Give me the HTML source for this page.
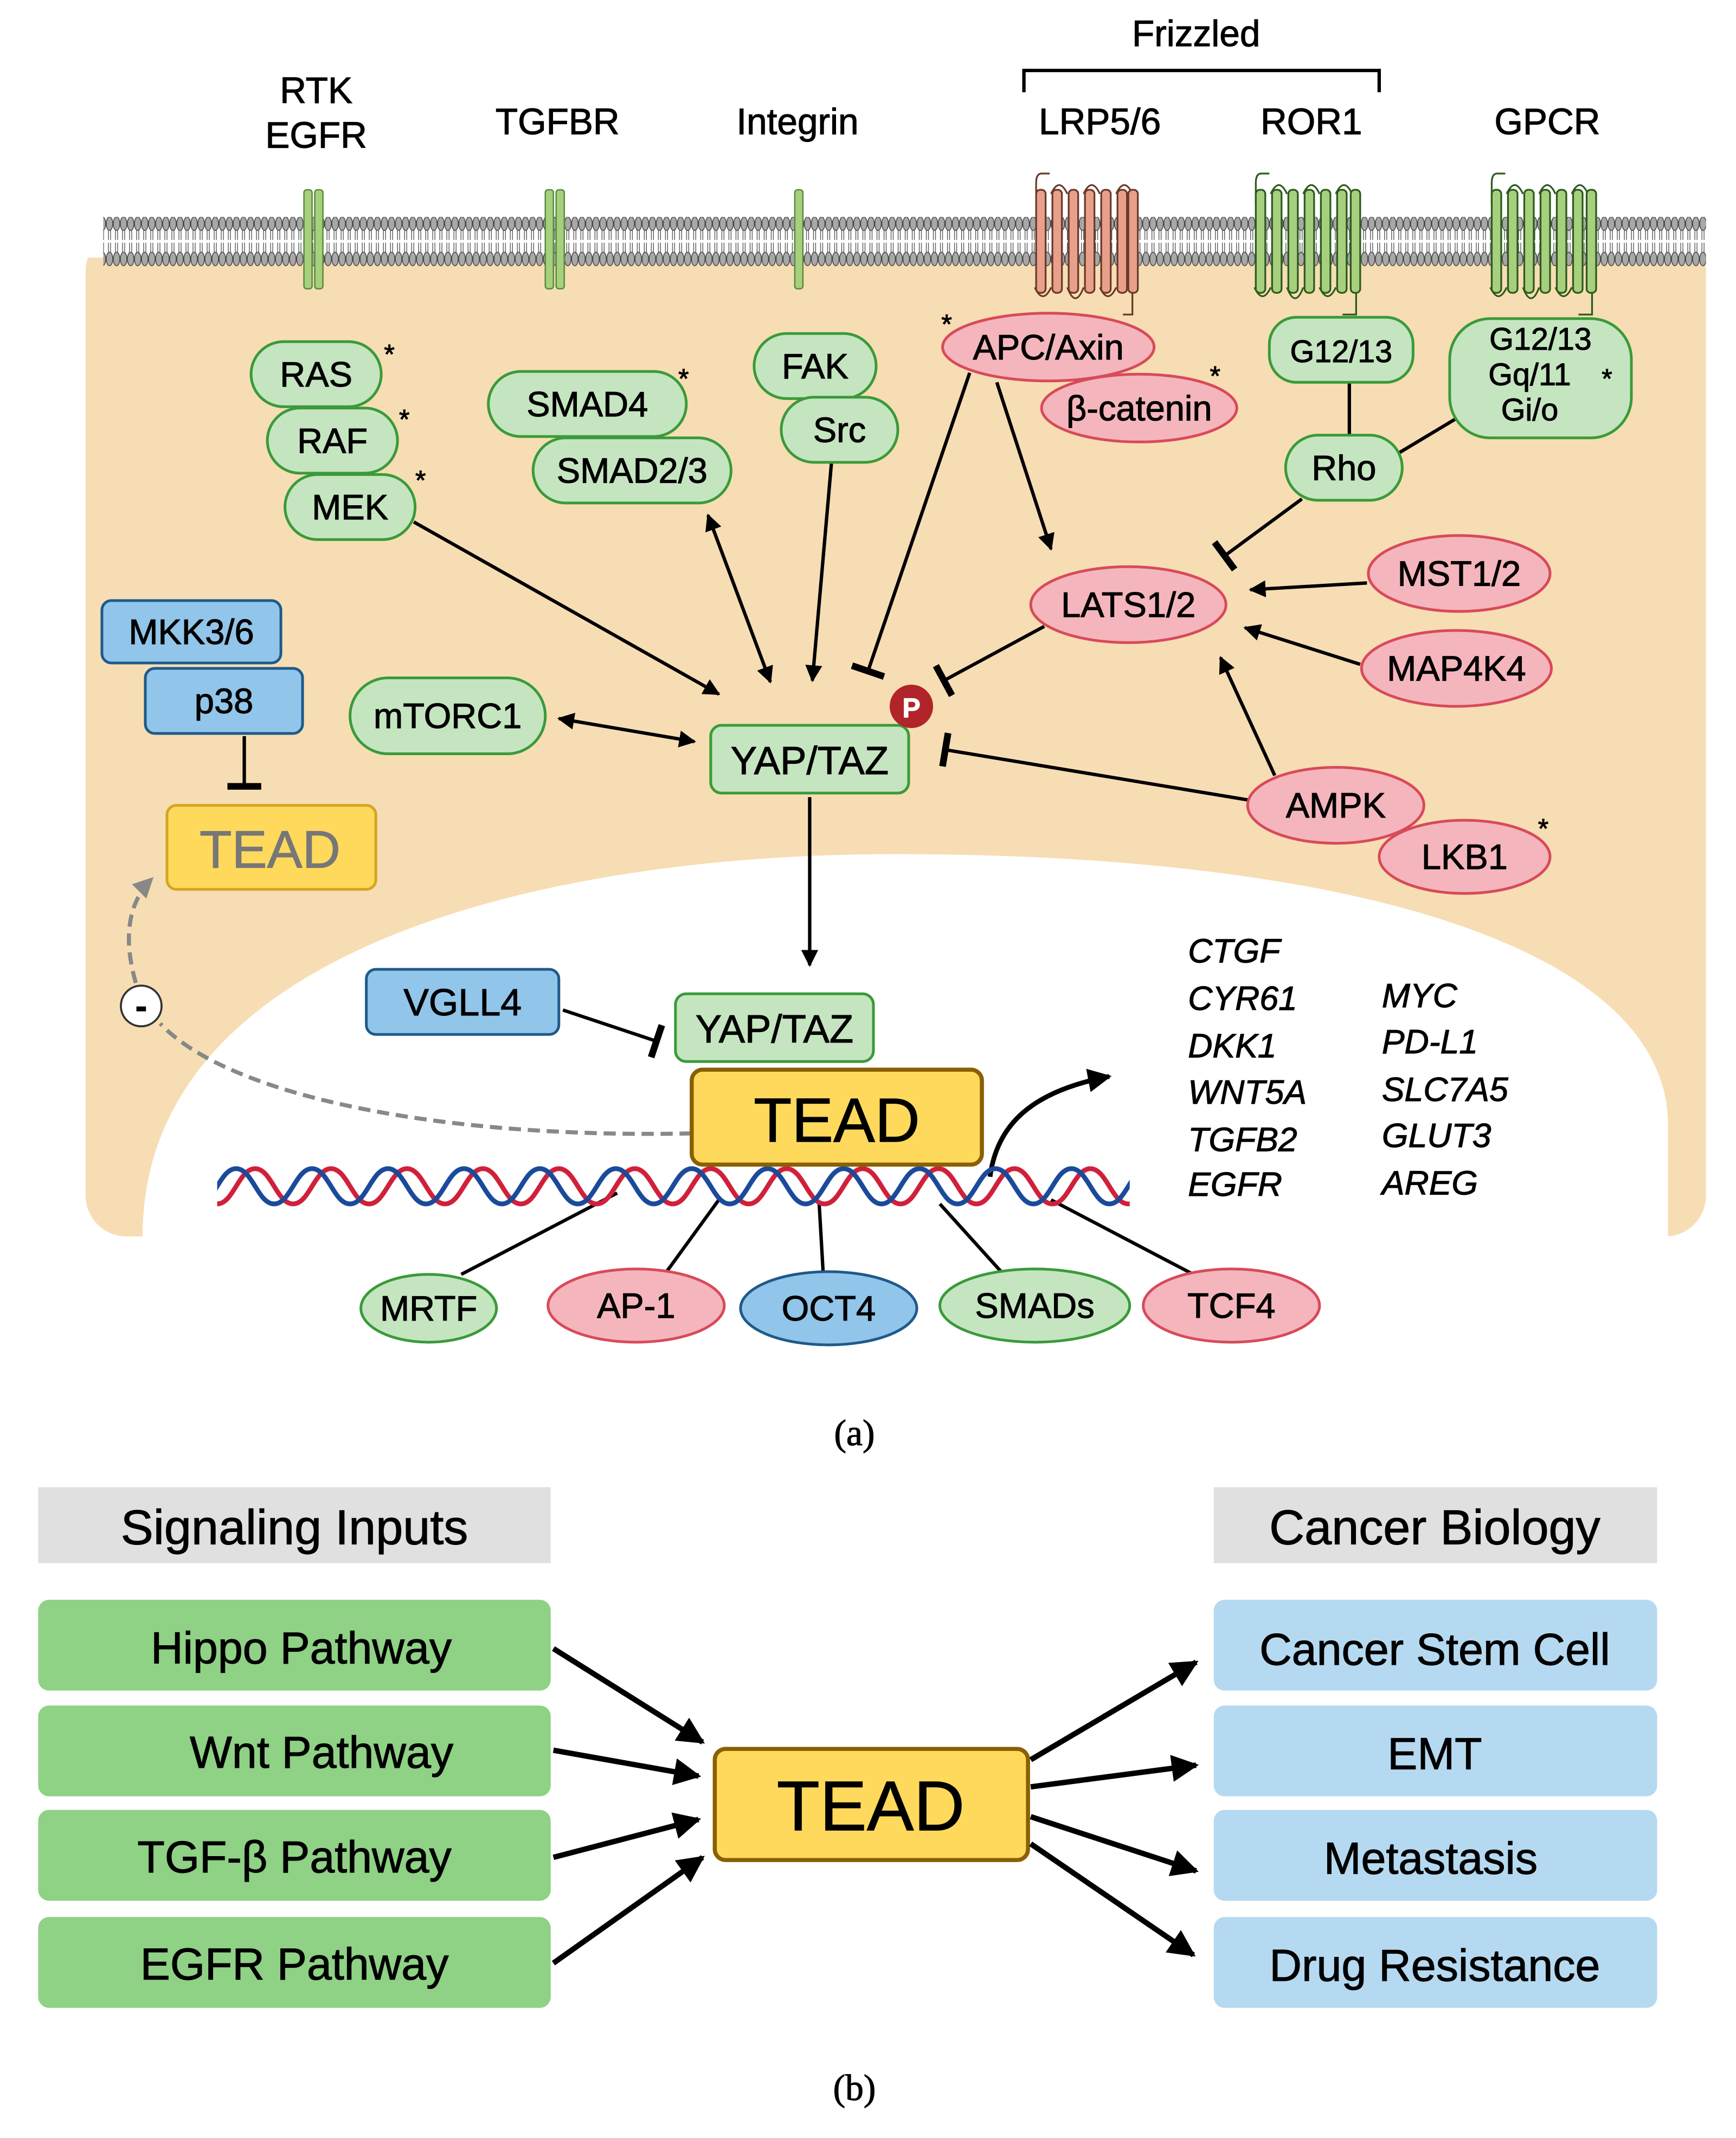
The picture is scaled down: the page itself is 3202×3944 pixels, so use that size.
<!DOCTYPE html>
<html><head><meta charset="utf-8"><style>
html,body{margin:0;padding:0;background:#fff}
svg{display:block}
text{font-family:"Liberation Sans",sans-serif;stroke:currentColor;stroke-width:0.45}
</style></head><body>
<svg width="3202" height="3944" viewBox="0 0 1280 1577" xmlns="http://www.w3.org/2000/svg">
<defs>
<pattern id="lipT" x="0" y="160" width="5.2" height="40" patternUnits="userSpaceOnUse">
<ellipse cx="2.6" cy="5" rx="2.4" ry="5" fill="#a8a8a8" stroke="#444" stroke-width="0.6"/>
<line x1="1.8" y1="10" x2="1.8" y2="17" stroke="#444" stroke-width="0.5"/>
<line x1="3.4" y1="10" x2="3.4" y2="17" stroke="#444" stroke-width="0.5"/>
<line x1="1.8" y1="19" x2="1.8" y2="26" stroke="#444" stroke-width="0.5"/>
<line x1="3.4" y1="19" x2="3.4" y2="26" stroke="#444" stroke-width="0.5"/>
<ellipse cx="2.6" cy="31" rx="2.4" ry="5" fill="#a8a8a8" stroke="#444" stroke-width="0.6"/>
</pattern>
<pattern id="dna" x="160" y="860" width="56" height="30" patternUnits="userSpaceOnUse">
<path d="M0,28 C12,28 16,2 28,2 C40,2 44,28 56,28" fill="none" stroke="#d0203a" stroke-width="3.5"/>
<path d="M-14,28 C-2,28 2,2 14,2 C26,2 30,28 42,28 C54,28 58,2 70,2" fill="none" stroke="#1a4a9a" stroke-width="3.5"/>
</pattern>
<marker id="ar" viewBox="0 0 10 10" refX="9" refY="5" markerWidth="5" markerHeight="5" orient="auto-start-reverse"><path d="M0,0 L10,5 L0,10 z" fill="#000"/></marker>
<marker id="arg" viewBox="0 0 10 10" refX="9" refY="5" markerWidth="5" markerHeight="5" orient="auto"><path d="M0,0 L10,5 L0,10 z" fill="#888"/></marker>
<marker id="tb" viewBox="0 0 4 20" refX="2" refY="10" markerWidth="2" markerHeight="10" orient="auto"><rect x="0" y="0" width="4" height="20" fill="#000"/></marker>
</defs>

<rect x="63" y="170" width="1195" height="742" rx="30" fill="#f7ddb3"/>
<rect x="63" y="170" width="1195" height="20" fill="#fff"/>
<path d="M105,912 C105,700 400,630 660,630 C1000,630 1230,700 1230,830 L1230,912 Z" fill="#fff"/>
<rect x="76" y="160" width="1182" height="37" fill="url(#lipT)"/>

<g fill="#a6d07e" stroke="#5a8a3a" stroke-width="1">
<rect x="224" y="140" width="6" height="73" rx="2"/><rect x="232" y="140" width="6" height="73" rx="2"/>
<rect x="402" y="140" width="6" height="73" rx="2"/><rect x="410" y="140" width="6" height="73" rx="2"/>
<rect x="586" y="140" width="6" height="73" rx="2"/>
</g>
<g stroke="#6a3a2a" stroke-width="1.3" fill="#e8a08a">
<path d="M774,128 H768 Q764,128 764,135 V150" fill="none"/>
<path d="M775,143 Q781,130 787,143 M799,143 Q805,130 811,143 M823,143 Q829,130 835,143" fill="none"/>
<path d="M763,212 Q769,225 775,212 M787,212 Q793,228 799,212 M811,212 Q817,225 823,212 M835,212 V232 H828" fill="none"/>
<rect x="764" y="140" width="7" height="76" rx="3"/><rect x="776" y="140" width="7" height="76" rx="3"/><rect x="788" y="140" width="7" height="76" rx="3"/><rect x="800" y="140" width="7" height="76" rx="3"/><rect x="812" y="140" width="7" height="76" rx="3"/><rect x="824" y="140" width="7" height="76" rx="3"/><rect x="832" y="140" width="7" height="76" rx="3"/>
</g>
<g stroke="#2e5a1e" stroke-width="1.3" fill="#a6d07e">
<path d="M936,128 H930 Q926,128 926,135 V150" fill="none"/>
<path d="M937,143 Q943,130 949,143 M961,143 Q967,130 973,143 M985,143 Q991,130 997,143" fill="none"/>
<path d="M925,212 Q931,225 937,212 M949,212 Q955,228 961,212 M973,212 Q979,225 985,212 M1000,212 V232 H990" fill="none"/>
<rect x="926" y="140" width="7" height="76" rx="3"/><rect x="938" y="140" width="7" height="76" rx="3"/><rect x="950" y="140" width="7" height="76" rx="3"/><rect x="962" y="140" width="7" height="76" rx="3"/><rect x="974" y="140" width="7" height="76" rx="3"/><rect x="986" y="140" width="7" height="76" rx="3"/><rect x="996" y="140" width="7" height="76" rx="3"/>
<path d="M1110,128 H1104 Q1100,128 1100,135 V150" fill="none"/>
<path d="M1111,143 Q1117,130 1123,143 M1135,143 Q1141,130 1147,143 M1159,143 Q1165,130 1171,143" fill="none"/>
<path d="M1099,212 Q1105,225 1111,212 M1123,212 Q1129,228 1135,212 M1147,212 Q1153,225 1159,212 M1174,212 V232 H1164" fill="none"/>
<rect x="1100" y="140" width="7" height="76" rx="3"/><rect x="1112" y="140" width="7" height="76" rx="3"/><rect x="1124" y="140" width="7" height="76" rx="3"/><rect x="1136" y="140" width="7" height="76" rx="3"/><rect x="1148" y="140" width="7" height="76" rx="3"/><rect x="1160" y="140" width="7" height="76" rx="3"/><rect x="1170" y="140" width="7" height="76" rx="3"/>
</g>

<g font-size="27" text-anchor="middle" fill="#000" color="#000">
<text x="233" y="76">RTK</text><text x="233" y="109">EGFR</text>
<text x="411" y="99">TGFBR</text><text x="588" y="99">Integrin</text>
<text x="811" y="99">LRP5/6</text><text x="967" y="99">ROR1</text><text x="1141" y="99">GPCR</text>
<text x="882" y="34">Frizzled</text>
</g>
<path d="M755,68 V52 H1017 V68" fill="none" stroke="#000" stroke-width="2.5"/>

<g stroke="#000" stroke-width="2.5" fill="none">
<line x1="305" y1="385" x2="530" y2="512" marker-end="url(#ar)"/>
<line x1="522" y1="380" x2="568" y2="503" marker-start="url(#ar)" marker-end="url(#ar)"/>
<line x1="613" y1="342" x2="599" y2="502" marker-end="url(#ar)"/>
<line x1="715" y1="275" x2="640" y2="495" marker-end="url(#tb)"/>
<line x1="735" y1="282" x2="775" y2="405" marker-end="url(#ar)"/>
<line x1="770" y1="462" x2="696" y2="502" marker-end="url(#tb)"/>
<line x1="995" y1="282" x2="995" y2="322"/>
<line x1="1075" y1="308" x2="1030" y2="335"/>
<line x1="960" y1="368" x2="903" y2="410" marker-end="url(#tb)"/>
<line x1="1008" y1="430" x2="922" y2="435" marker-end="url(#ar)"/>
<line x1="1003" y1="490" x2="918" y2="463" marker-end="url(#ar)"/>
<line x1="940" y1="572" x2="900" y2="485" marker-end="url(#ar)"/>
<line x1="920" y1="590" x2="697" y2="553" marker-end="url(#tb)"/>
<line x1="412" y1="530" x2="512" y2="547" marker-start="url(#ar)" marker-end="url(#ar)"/>
<line x1="180" y1="543" x2="180" y2="580" marker-end="url(#tb)"/>
<line x1="597" y1="588" x2="597" y2="712" marker-end="url(#ar)"/>
<line x1="415" y1="745" x2="484" y2="768" marker-end="url(#tb)"/>
<path d="M730,868 C735,830 760,805 818,794" stroke-width="3.5" marker-end="url(#ar)"/>
<line x1="340" y1="940" x2="455" y2="880"/>
<line x1="490" y1="940" x2="530" y2="885"/>
<line x1="607" y1="940" x2="604" y2="888"/>
<line x1="740" y1="940" x2="693" y2="888"/>
<line x1="880" y1="940" x2="775" y2="885"/>
</g>
<g stroke="#888" stroke-width="3" fill="none" stroke-dasharray="9,5">
<path d="M510,836 C330,840 170,810 118,755"/>
<path d="M100,725 C90,690 95,665 112,648" marker-end="url(#arg)"/>
</g>
<circle cx="104" cy="742" r="15" fill="#fff" stroke="#333" stroke-width="1.5"/>
<text x="104" y="751" font-size="26" text-anchor="middle" font-weight="bold" color="#000">-</text>

<rect x="160" y="860" width="673" height="30" fill="url(#dna)"/>

<g fill="#c5e5c0" stroke="#3a9a3a" stroke-width="2">
<rect x="185" y="252" width="96" height="48" rx="24"/>
<rect x="197" y="301" width="96" height="48" rx="24"/>
<rect x="210" y="350" width="96" height="48" rx="24"/>
<rect x="360" y="274" width="146" height="48" rx="24"/>
<rect x="393" y="323" width="146" height="48" rx="24"/>
<rect x="556" y="246" width="90" height="48" rx="24"/>
<rect x="576" y="293" width="86" height="48" rx="24"/>
<rect x="936" y="234" width="106" height="48" rx="20"/>
<rect x="1069" y="235" width="134" height="88" rx="30"/>
<rect x="948" y="321" width="86" height="48" rx="24"/>
<rect x="258" y="500" width="144" height="56" rx="28"/>
<rect x="524" y="535" width="146" height="50" rx="8"/>
<rect x="498" y="733" width="146" height="50" rx="8"/>
<ellipse cx="316" cy="965" rx="50" ry="25"/>
<ellipse cx="763" cy="963" rx="70" ry="27"/>
</g>
<g fill="#f4b6bc" stroke="#d84a5a" stroke-width="2">
<ellipse cx="773" cy="256" rx="78" ry="25"/>
<ellipse cx="840" cy="301" rx="72" ry="25"/>
<ellipse cx="832" cy="446" rx="72" ry="28"/>
<ellipse cx="1076" cy="423" rx="67" ry="28"/>
<ellipse cx="1074" cy="493" rx="70" ry="28"/>
<ellipse cx="1080" cy="632" rx="63" ry="27"/>
<ellipse cx="985" cy="594" rx="65" ry="28"/>
<ellipse cx="469" cy="963" rx="65" ry="27"/>
<ellipse cx="908" cy="963" rx="65" ry="27"/>
</g>
<g fill="#92c5ea" stroke="#1e5a8a" stroke-width="2">
<rect x="75" y="443" width="132" height="46" rx="7"/>
<rect x="107" y="493" width="116" height="48" rx="7"/>
<rect x="270" y="715" width="142" height="48" rx="7"/>
<ellipse cx="611" cy="965" rx="65" ry="27"/>
</g>
<rect x="123" y="594" width="154" height="62" rx="7" fill="#ffd95c" stroke="#d4a520" stroke-width="2"/>
<rect x="510" y="789" width="214" height="70" rx="8" fill="#ffd95c" stroke="#8a6000" stroke-width="3"/>
<circle cx="672" cy="521" r="16" fill="#b0242a"/>
<text x="672" y="529" font-size="20" font-weight="bold" fill="#fff" color="#fff" text-anchor="middle">P</text>

<g font-size="26" text-anchor="middle" fill="#000" color="#000">
<text x="233" y="285">RAS</text><text x="245" y="334">RAF</text><text x="258" y="383">MEK</text>
<text x="433" y="307">SMAD4</text><text x="466" y="356">SMAD2/3</text>
<text x="601" y="279">FAK</text><text x="619" y="326">Src</text>
<text x="773" y="265">APC/Axin</text><text x="840" y="310">β-catenin</text>
<text x="989" y="267" font-size="23">G12/13</text>
<text x="1136" y="258" font-size="23">G12/13</text><text x="1128" y="284" font-size="23">Gq/11</text><text x="1128" y="310" font-size="23">Gi/o</text>
<text x="991" y="354">Rho</text>
<text x="832" y="455">LATS1/2</text><text x="1076" y="432">MST1/2</text><text x="1074" y="502">MAP4K4</text>
<text x="985" y="603">AMPK</text><text x="1080" y="641">LKB1</text>
<text x="330" y="537">mTORC1</text>
<text x="597" y="571" font-size="29">YAP/TAZ</text>
<text x="141" y="475">MKK3/6</text><text x="165" y="526">p38</text>
<text x="199" y="640" font-size="39" fill="#777" color="#777">TEAD</text>
<text x="341" y="749" font-size="28">VGLL4</text>
<text x="571" y="769" font-size="29">YAP/TAZ</text>
<text x="617" y="842" font-size="46">TEAD</text>
<text x="316" y="974">MRTF</text><text x="469" y="972">AP-1</text><text x="611" y="974">OCT4</text><text x="763" y="972">SMADs</text><text x="908" y="972">TCF4</text>
</g>
<g font-size="20" text-anchor="middle" color="#000">
<text x="287" y="268">*</text><text x="298" y="316">*</text><text x="310" y="361">*</text><text x="504" y="286">*</text><text x="698" y="246">*</text><text x="896" y="284">*</text><text x="1185" y="286">*</text><text x="1138" y="618">*</text>
</g>
<g font-size="25" font-style="italic" fill="#000" color="#000">
<text x="876" y="710">CTGF</text><text x="876" y="745">CYR61</text><text x="876" y="780">DKK1</text><text x="876" y="814">WNT5A</text><text x="876" y="849">TGFB2</text><text x="876" y="882">EGFR</text>
<text x="1019" y="743">MYC</text><text x="1019" y="777">PD-L1</text><text x="1019" y="812">SLC7A5</text><text x="1019" y="846">GLUT3</text><text x="1019" y="881">AREG</text>
</g>
<text x="630" y="1066" font-size="27" font-family="Liberation Serif" text-anchor="middle" style="font-family:'Liberation Serif',serif" color="#000">(a)</text>

<rect x="28" y="1097" width="378" height="56" fill="#e0e0e0"/>
<rect x="895" y="1097" width="327" height="56" fill="#e0e0e0"/>
<g fill="#8fd185">
<rect x="28" y="1180" width="378" height="67" rx="8"/><rect x="28" y="1258" width="378" height="67" rx="8"/><rect x="28" y="1335" width="378" height="67" rx="8"/><rect x="28" y="1414" width="378" height="67" rx="8"/>
</g>
<g fill="#b5d9f0">
<rect x="895" y="1180" width="327" height="67" rx="8"/><rect x="895" y="1258" width="327" height="67" rx="8"/><rect x="895" y="1335" width="327" height="67" rx="8"/><rect x="895" y="1414" width="327" height="67" rx="8"/>
</g>
<rect x="527" y="1290" width="231" height="82" rx="8" fill="#ffd95c" stroke="#8a6000" stroke-width="3"/>
<g stroke="#000" stroke-width="4" fill="none">
<line x1="408" y1="1216" x2="518" y2="1285" marker-end="url(#ar)"/>
<line x1="408" y1="1291" x2="515" y2="1310" marker-end="url(#ar)"/>
<line x1="408" y1="1370" x2="515" y2="1342" marker-end="url(#ar)"/>
<line x1="408" y1="1448" x2="518" y2="1370" marker-end="url(#ar)"/>
<line x1="760" y1="1298" x2="882" y2="1226" marker-end="url(#ar)"/>
<line x1="760" y1="1318" x2="882" y2="1302" marker-end="url(#ar)"/>
<line x1="760" y1="1340" x2="882" y2="1380" marker-end="url(#ar)"/>
<line x1="760" y1="1360" x2="880" y2="1442" marker-end="url(#ar)"/>
</g>
<g font-size="36" text-anchor="middle" fill="#000" color="#000" style="stroke-width:0.7">
<text x="217" y="1139">Signaling  Inputs</text><text x="1058" y="1139">Cancer  Biology</text>
<text x="222" y="1227" font-size="33">Hippo Pathway</text>
<text x="237" y="1304" font-size="33">Wnt Pathway</text>
<text x="217" y="1381" font-size="33">TGF-β Pathway</text>
<text x="217" y="1460" font-size="33">EGFR Pathway</text>
<text x="1058" y="1228" font-size="33">Cancer Stem Cell</text>
<text x="1058" y="1305" font-size="33">EMT</text>
<text x="1055" y="1382" font-size="33">Metastasis</text>
<text x="1058" y="1461" font-size="33">Drug Resistance</text>
<text x="642" y="1350" font-size="52">TEAD</text>
</g>
<text x="630" y="1549" font-size="27" text-anchor="middle" style="font-family:'Liberation Serif',serif" color="#000">(b)</text>
</svg>
</body></html>
